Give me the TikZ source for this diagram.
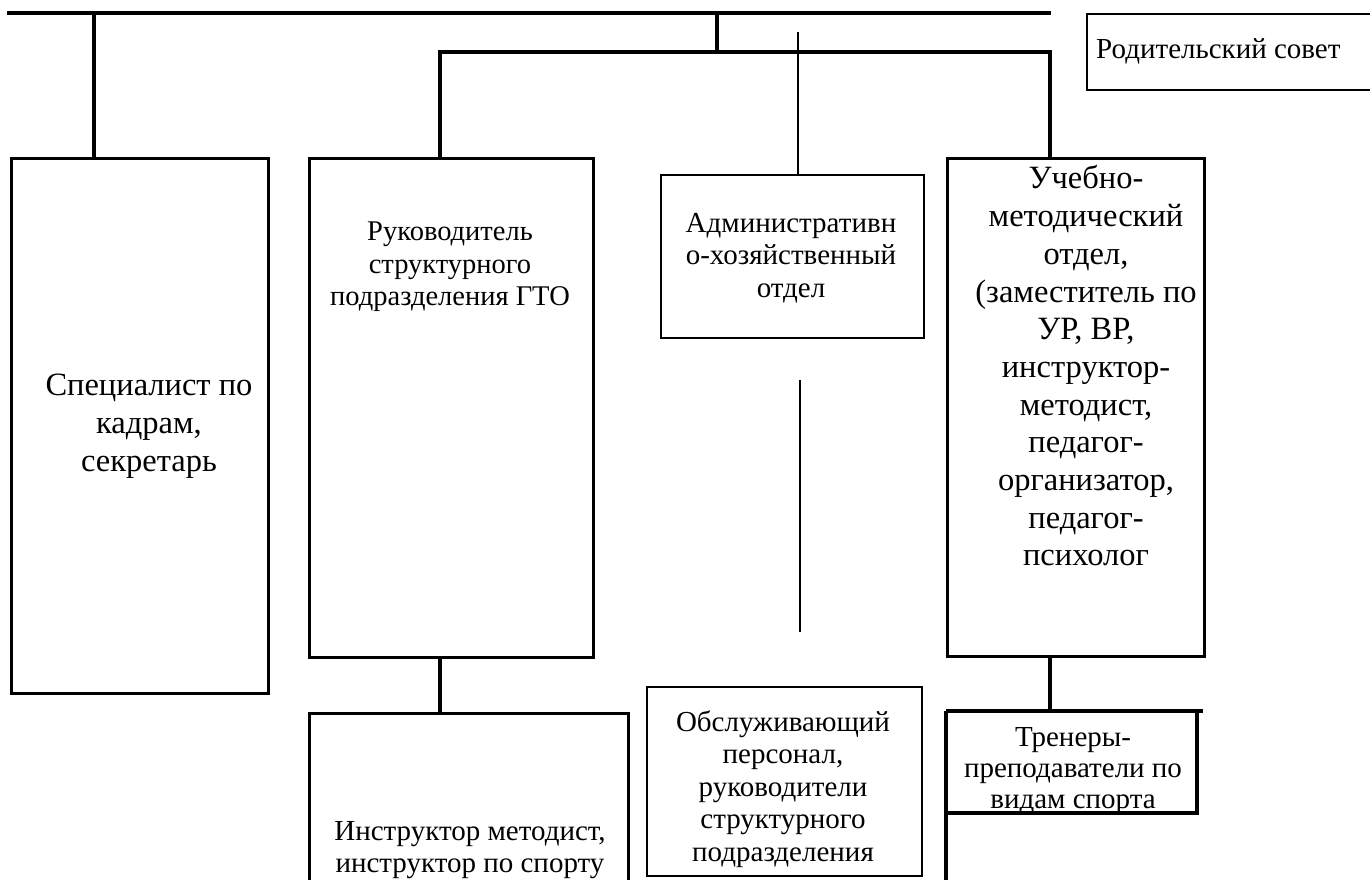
\documentclass[tikz,border=0pt]{standalone}
\usepackage{fontspec}
\setmainfont{Liberation Serif}
\begin{document}
\begin{tikzpicture}[x=1pt,y=-1pt,
  thk/.style={line width=3.2pt},
  thn/.style={line width=1.8pt},
  boxthk/.style={draw,thk,rectangle,inner sep=0pt},
  boxthn/.style={draw,thn,rectangle,inner sep=0pt},
  lbl/.style={align=center,inner sep=0pt,font=\fontsize{29}{33}\selectfont},
]
\useasboundingbox (0,0) rectangle (1370,879);
\clip (0,0) rectangle (1370,879);
% boxes
\node[boxthk,minimum width=257pt,minimum height=535pt,anchor=north west] (spec) at (10,157) {};
\node[boxthk,minimum width=284pt,minimum height=499pt,anchor=north west] (gto) at (308,157) {};
\node[boxthn,minimum width=263pt,minimum height=163pt,anchor=north west] (adm) at (660,174) {};
\node[boxthk,minimum width=257pt,minimum height=498pt,anchor=north west] (uch) at (946,157) {};
\node[boxthn,minimum width=275pt,minimum height=189pt,anchor=north west] (obs) at (646,686) {};
\node[boxthn,minimum width=300pt,minimum height=76pt,anchor=north west] (rod) at (1086,13) {};
\node[boxthk,minimum width=319pt,minimum height=200pt,anchor=north west] (ins) at (308,712) {};
% trainers box (open shape)
\coordinate (trTL) at (946,711);
\coordinate (trTR) at (1203,711);
\coordinate (trR) at (1197,711);
\coordinate (trBR) at (1197,813);
\coordinate (trBL) at (946,813);
\coordinate (trLow) at (946,890);
\draw[thk] (trTL) -- (trTR);
\draw[thk] (trR) -- (trBR) -- (trBL);
\draw[thk] (trTL) -- (trLow);
% labels
\node[lbl,font=\fontsize{32.5}{38}\selectfont] (tspec) at (149,426) {Специалист по\\кадрам,\\секретарь};
\node[lbl,font=\fontsize{28.5}{32.5}\selectfont] (tgto) at (450,267) {Руководитель\\структурного\\подразделения ГТО};
\node[lbl,font=\fontsize{29}{32.5}\selectfont] (tadm) at (791,258) {Административн\\о-хозяйственный\\отдел};
\node[lbl,font=\fontsize{32.5}{37.7}\selectfont] (tuch) at (1086,366) {Учебно-\\методический\\отдел,\\(заместитель по\\УР, ВР,\\инструктор-\\методист,\\педагог-\\организатор,\\педагог-\\психолог};
\node[lbl,font=\fontsize{29}{32.5}\selectfont] (tobs) at (783,789) {Обслуживающий\\персонал,\\руководители\\структурного\\подразделения};
\node[lbl,font=\fontsize{29}{31}\selectfont] (ttr) at (1073,771) {Тренеры-\\преподаватели по\\видам спорта};
\node[lbl,font=\fontsize{29}{32}\selectfont] (tins) at (470,850) {Инструктор методист,\\инструктор по спорту};
\node[lbl,anchor=west] (trod) at (1096,51) {Родительский совет};
% connectors
\coordinate (topL) at (7,13);
\coordinate (topR) at (1051,13);
\draw[thk] (topL) -- (topR);
\coordinate (j1) at (94,13);
\draw[thk] (j1) -- (j1 |- spec.north);
\coordinate (j2) at (717,13);
\coordinate (b2L) at (440,52);
\coordinate (b2R) at (1050,52);
\draw[thk] (j2) -- (j2 |- b2L);
\draw[thk] (b2L |- gto.north) -- (b2L) -- (b2R) -- (b2R |- uch.north);
\coordinate (t1) at (798,32);
\draw[thn] (t1) -- (t1 |- adm.north);
\coordinate (t2a) at (800,380);
\coordinate (t2b) at (800,632);
\draw[thn] (t2a) -- (t2b);
\draw[thk] (b2L |- gto.south) -- (b2L |- ins.north);
\draw[thk] (b2R |- uch.south) -- (b2R |- trTL);
\end{tikzpicture}
\end{document}
